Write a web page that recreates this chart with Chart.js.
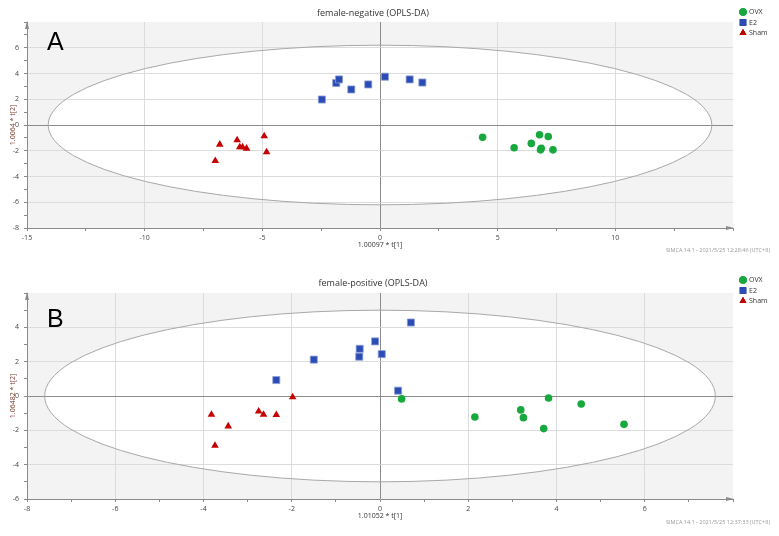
<!DOCTYPE html>
<html>
<head>
<meta charset="utf-8">
<script src="https://cdn.jsdelivr.net/npm/chart.js@4.4.1/dist/chart.umd.min.js"></script>
<style>
  body { margin: 0; background: #fff; }
  .box { position: relative; width: 779px; height: 268px; }
</style>
</head>
<body>
<div class="box"><canvas id="chartA" width="779" height="268"></canvas></div>
<div class="box"><canvas id="chartB" width="779" height="268"></canvas></div>
<script>
var groups = ["OVX", "E2", "Sham"];

// panel A: female-negative
var ovxA_x = [4.36, 5.70, 6.43, 6.78, 7.15, 6.85, 6.82, 7.35];
var ovxA_y = [-0.96, -1.77, -1.43, -0.76, -0.89, -1.80, -1.93, -1.93];
var e2A_x = [-2.47, -1.86, -1.74, -1.22, -0.50, 0.21, 1.26, 1.80];
var e2A_y = [1.98, 3.26, 3.54, 2.76, 3.15, 3.75, 3.54, 3.30];
var shamA_x = [-7.00, -6.81, -6.07, -5.96, -5.84, -5.67, -4.92, -4.82];
var shamA_y = [-2.79, -1.51, -1.17, -1.72, -1.72, -1.82, -0.86, -2.11];

// panel B: female-positive
var ovxB_x = [0.49, 2.15, 3.19, 3.25, 3.82, 3.71, 4.56, 5.53];
var ovxB_y = [-0.17, -1.22, -0.81, -1.26, -0.12, -1.90, -0.47, -1.65];
var e2B_x = [-2.35, -1.50, -0.46, -0.47, -0.11, 0.04, 0.70, 0.41];
var e2B_y = [0.93, 2.12, 2.75, 2.29, 3.18, 2.44, 4.28, 0.31];
var shamB_x = [-3.82, -3.74, -3.44, -2.75, -2.64, -2.35, -1.98];
var shamB_y = [-1.08, -2.89, -1.76, -0.89, -1.08, -1.10, -0.06];

// Hotelling T2 ellipse half-axes
var ellipseA = [14.1, 6.2];
var ellipseB = [7.6, 5.0];

function pts(xs, ys) {
  return xs.map(function (x, i) { return { x: x, y: ys[i] }; });
}

var decor = {
  id: 'decor',
  beforeDraw: function (chart) {
    var a = chart.chartArea, ctx = chart.ctx, o = chart.options.plugins.decor;
    var sx = chart.scales.x, sy = chart.scales.y;
    ctx.save();
    ctx.fillStyle = '#f3f3f3';
    ctx.fillRect(a.left, a.top, a.right - a.left, a.bottom - a.top);
    var cx = sx.getPixelForValue(0), cy = sy.getPixelForValue(0);
    var rx = sx.getPixelForValue(o.ellipse[0]) - cx;
    var ry = cy - sy.getPixelForValue(o.ellipse[1]);
    ctx.beginPath();
    ctx.ellipse(cx, cy, rx, ry, 0, 0, Math.PI * 2);
    ctx.fillStyle = '#ffffff';
    ctx.fill();
    ctx.restore();
  },
  beforeDatasetsDraw: function (chart) {
    var ctx = chart.ctx, o = chart.options.plugins.decor;
    var sx = chart.scales.x, sy = chart.scales.y, a = chart.chartArea;
    var cx = sx.getPixelForValue(0), cy = sy.getPixelForValue(0);
    var rx = sx.getPixelForValue(o.ellipse[0]) - cx;
    var ry = cy - sy.getPixelForValue(o.ellipse[1]);
    ctx.save();
    ctx.beginPath();
    ctx.ellipse(cx, cy, rx, ry, 0, 0, Math.PI * 2);
    ctx.strokeStyle = '#a8a8a8';
    ctx.lineWidth = 1;
    ctx.stroke();
    // axis arrows
    ctx.fillStyle = '#8a8a8a';
    ctx.beginPath();
    ctx.moveTo(a.left, a.top - 1);
    ctx.lineTo(a.left - 2, a.top + 7);
    ctx.lineTo(a.left + 2, a.top + 7);
    ctx.closePath();
    ctx.fill();
    ctx.beginPath();
    ctx.moveTo(a.right + 1, a.bottom);
    ctx.lineTo(a.right - 7, a.bottom - 2);
    ctx.lineTo(a.right - 7, a.bottom + 2);
    ctx.closePath();
    ctx.fill();
    ctx.restore();
  },
  afterDraw: function (chart) {
    var ctx = chart.ctx, o = chart.options.plugins.decor;
    ctx.save();
    ctx.fillStyle = '#333';
    ctx.font = '9px "Open Sans"';
    ctx.textAlign = 'center';
    ctx.textBaseline = 'middle';
    ctx.fillText(o.title, 373, o.titleY);
    ctx.fillStyle = '#000';
    ctx.font = '25px "Liberation Sans"';
    ctx.textAlign = 'left';
    ctx.textBaseline = 'alphabetic';
    ctx.fillText(o.letter, 47, o.letterY);
    ctx.fillStyle = '#9a9a9a';
    ctx.font = '5.5px "Open Sans"';
    ctx.textAlign = 'right';
    ctx.textBaseline = 'middle';
    ctx.fillText(o.footer, 770, o.footerY);
    // legend
    chart.data.datasets.forEach(function (ds, i) {
      var y = 12 + i * 10.5;
      Chart.helpers.drawPoint(ctx, {
        pointStyle: ds.pointStyle, radius: ds.legendRadius, borderWidth: 0
      }, 743, y);
      ctx.fillStyle = ds.backgroundColor;
      ctx.beginPath();
      Chart.helpers.drawPoint(ctx, {
        pointStyle: ds.pointStyle, radius: ds.legendRadius, borderWidth: 0
      }, 743, y);
      ctx.fill();
      ctx.fillStyle = '#333';
      ctx.font = '7px "Open Sans"';
      ctx.textAlign = 'left';
      ctx.fillText(ds.label, 749, y);
    });
    ctx.restore();
  }
};

function makeChart(id, p) {
  function axis(min, max, minor, major, h, isX, title, titleColor, titlePad) {
    return {
      type: 'linear', min: min, max: max,
      afterFit: function (s) { if (isX) s.height = h; else s.width = h; },
      ticks: {
        stepSize: minor, autoSkip: false, maxRotation: 0,
        padding: isX ? 3 : 5, color: '#444', font: { size: 7, family: 'Open Sans' },
        callback: function (v) {
          return (Math.abs(v / major - Math.round(v / major)) < 1e-6 && v !== max) ? v : '';
        }
      },
      grid: {
        tickLength: 3, tickColor: '#8a8a8a', lineWidth: 1,
        color: function (c) {
          var v = c.tick.value;
          if (v === 0) return '#8c8c8c';
          if (Math.abs(v / major - Math.round(v / major)) < 1e-6 && v !== min && v !== max) return '#dcdcdc';
          return 'rgba(0,0,0,0)';
        }
      },
      border: { color: '#8a8a8a', width: 1 },
      title: {
        display: true, text: title, color: titleColor,
        font: { size: 7, family: 'Open Sans' }, padding: titlePad
      }
    };
  }
  return new Chart(document.getElementById(id), {
    type: 'scatter',
    data: {
      datasets: [
        { label: groups[0], data: pts(p.ovx[0], p.ovx[1]), pointStyle: 'circle', pointRadius: 3.8,
          legendRadius: 3.8, backgroundColor: '#17a83e', borderColor: '#17a83e', borderWidth: 0 },
        { label: groups[1], data: pts(p.e2[0], p.e2[1]), pointStyle: 'rect', pointRadius: 5,
          legendRadius: 4.6, backgroundColor: '#2b4bb5', borderColor: '#8e9fd6', borderWidth: 0.8 },
        { label: groups[2], data: pts(p.sham[0], p.sham[1]), pointStyle: 'triangle', pointRadius: 4.4,
          legendRadius: 4, backgroundColor: '#c40000', borderColor: '#c40000', borderWidth: 0 }
      ]
    },
    options: {
      responsive: false, animation: false,
      layout: { padding: { top: p.top, right: 46, left: 0, bottom: 0 } },
      plugins: {
        legend: { display: false }, tooltip: { enabled: false },
        decor: p.decor
      },
      scales: {
        x: axis(p.xr[0], p.xr[1], p.xr[2], p.xr[3], p.xh, true, p.xt, '#333', { top: 0, bottom: p.xtPad }),
        y: axis(p.yr[0], p.yr[1], p.yr[2], p.yr[3], 27, false, p.yt, '#7a3a2e', { top: 9, bottom: 0 })
      }
    },
    plugins: [decor]
  });
}

makeChart('chartA', {
  ovx: [ovxA_x, ovxA_y], e2: [e2A_x, e2A_y], sham: [shamA_x, shamA_y],
  xr: [-15, 15, 2.5, 5], yr: [-8, 8, 1, 2], top: 22, xh: 40, xtPad: 19,
  xt: '1.00097 * t[1]', yt: '1.0064 * t[2]',
  decor: { ellipse: ellipseA, title: 'female-negative (OPLS-DA)', titleY: 13,
    letter: 'A', letterY: 50, footer: 'SIMCA 14.1 - 2021/5/25 12:28:46 (UTC+8)', footerY: 250 }
});
makeChart('chartB', {
  ovx: [ovxB_x, ovxB_y], e2: [e2B_x, e2B_y], sham: [shamB_x, shamB_y],
  xr: [-8, 8, 1, 2], yr: [-6, 6, 1, 2], top: 25, xh: 37, xtPad: 16,
  xt: '1.01052 * t[1]', yt: '1.06482 * t[2]',
  decor: { ellipse: ellipseB, title: 'female-positive (OPLS-DA)', titleY: 15,
    letter: 'B', letterY: 59, footer: 'SIMCA 14.1 - 2021/5/25 12:37:33 (UTC+8)', footerY: 254 }
});
</script>
</body>
</html>
